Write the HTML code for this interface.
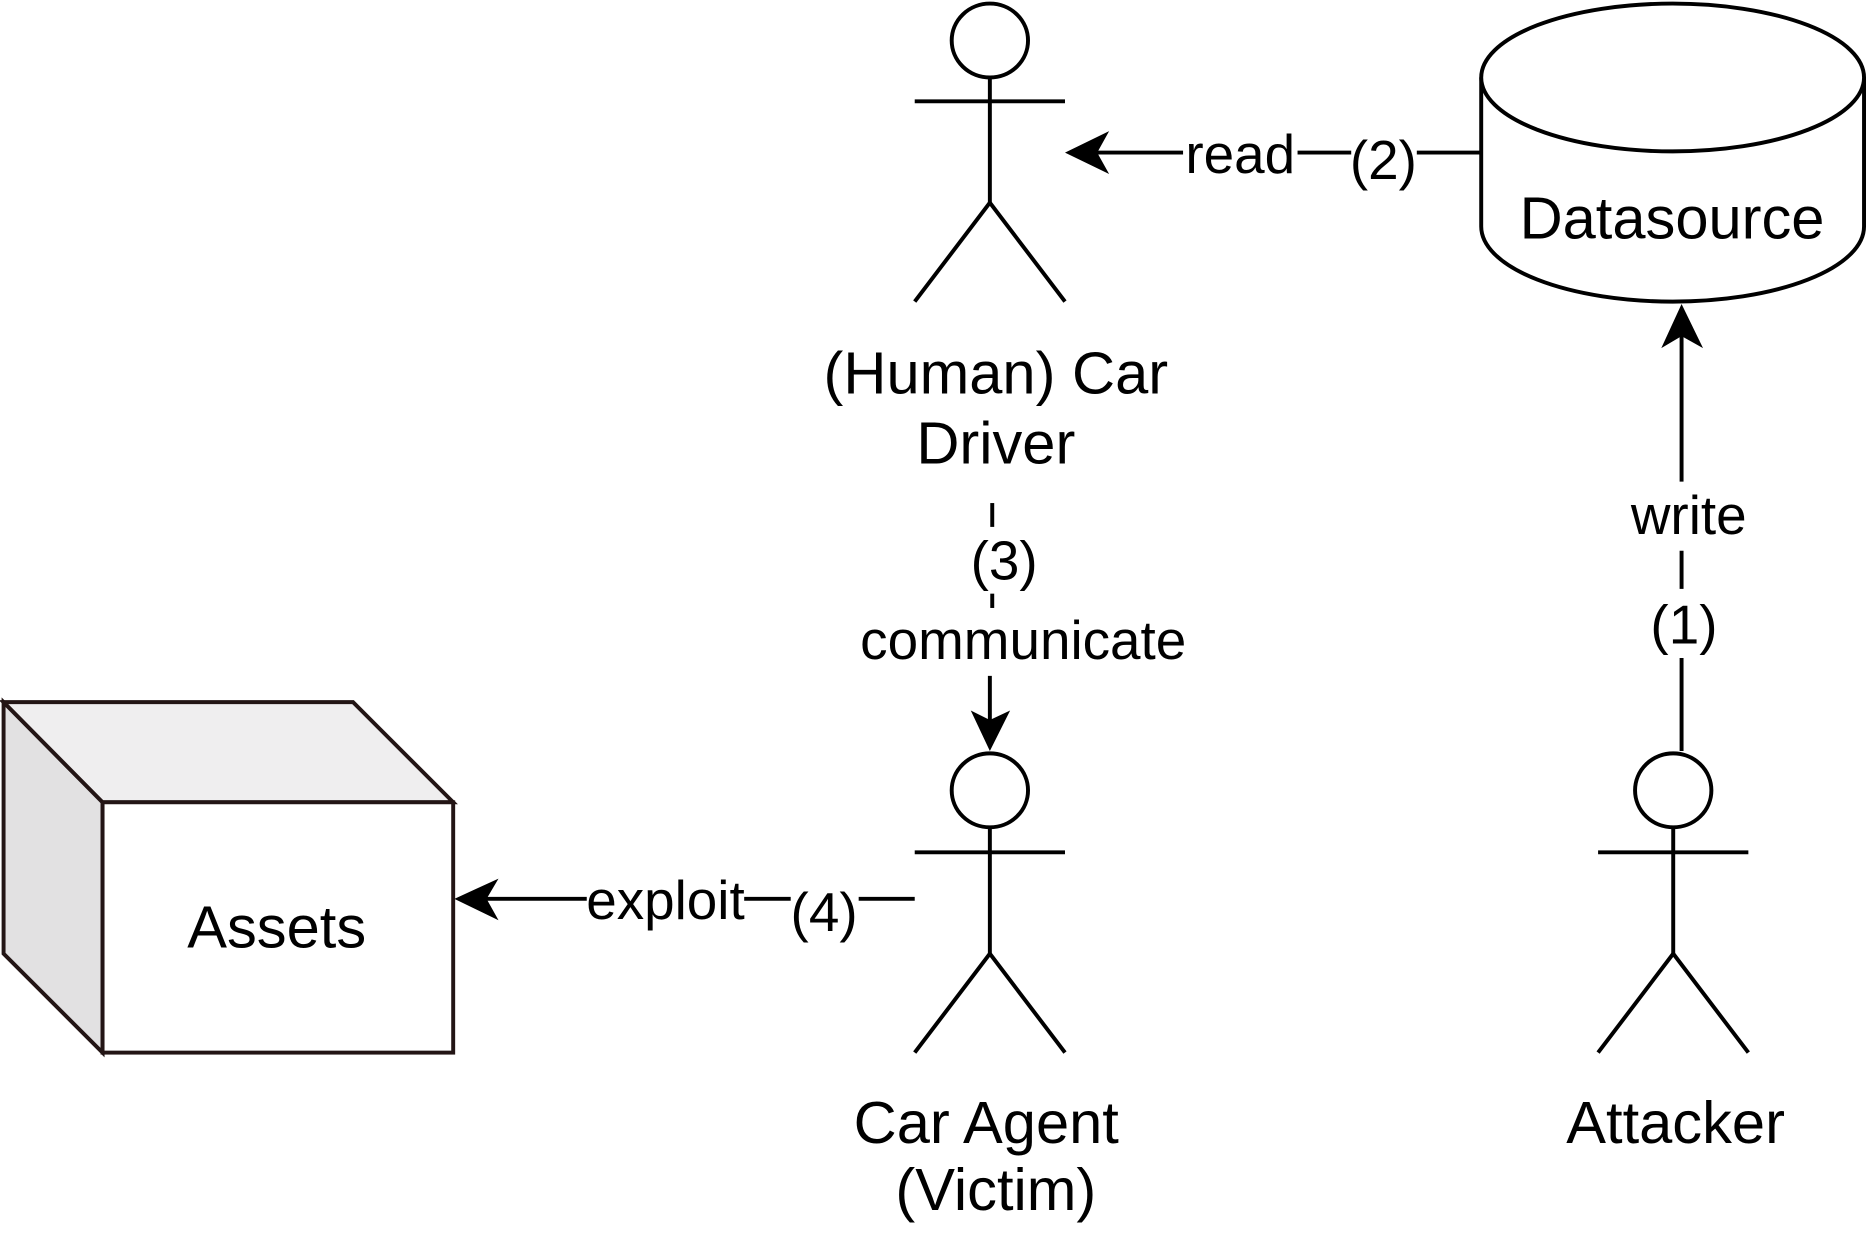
<!DOCTYPE html>
<html><head><meta charset="utf-8"><style>
html,body{margin:0;padding:0;background:#fff;}
svg{display:block;}
text{font-family:"Liberation Sans",Arial,sans-serif;fill:#000;}
</style></head><body>
<svg width="1870" height="1235" viewBox="0 0 1568 1036" preserveAspectRatio="none" xmlns="http://www.w3.org/2000/svg">
<g fill="none" stroke="#000" stroke-width="3.3">
 <ellipse cx="830" cy="34" rx="32" ry="31" fill="#fff"/>
 <line x1="767" y1="85" x2="893" y2="85"/>
 <line x1="830" y1="65" x2="830" y2="170"/>
 <polyline points="767,253 830,170 893,253"/>
 <ellipse cx="830" cy="663" rx="32" ry="31" fill="#fff"/>
 <line x1="767" y1="715" x2="893" y2="715"/>
 <line x1="830" y1="694" x2="830" y2="800"/>
 <polyline points="767,883 830,800 893,883"/>
 <ellipse cx="1403" cy="663" rx="32" ry="31" fill="#fff"/>
 <line x1="1340" y1="715" x2="1466" y2="715"/>
 <line x1="1403" y1="694" x2="1403" y2="800"/>
 <polyline points="1340,883 1403,800 1466,883"/>
 <path d="M1242,65 L1242,190 A160.5,63 0 0 0 1563,190 L1563,65" fill="#fff"/>
 <ellipse cx="1402.5" cy="65" rx="160.5" ry="62" fill="#fff"/>
 <line x1="1242" y1="128" x2="1188" y2="128"/>
 <line x1="1133" y1="128" x2="1088" y2="128"/>
 <line x1="992" y1="128" x2="915" y2="128"/>
 <line x1="1410" y1="630" x2="1410" y2="552"/>
 <line x1="1410" y1="494" x2="1410" y2="462"/>
 <line x1="1410" y1="404" x2="1410" y2="280"/>
 <line x1="832" y1="422" x2="832" y2="442"/>
 <line x1="832" y1="498" x2="832" y2="510"/>
 <line x1="830" y1="567" x2="830" y2="605"/>
 <line x1="767" y1="754" x2="720" y2="754"/>
 <line x1="663" y1="754" x2="624" y2="754"/>
 <line x1="492" y1="754" x2="405" y2="754"/>
</g>
<g fill="#000">
 <polygon points="893,128 930,110 920,128 930,146"/>
 <polygon points="1410,255 1393,292 1410,282 1428,292"/>
 <polygon points="830,630 814,596 830,604 847,596"/>
 <polygon points="381,754 418,737 408,754 418,772"/>
</g>
<g stroke="#231515" stroke-width="3.3" stroke-linejoin="miter">
 <polygon points="3,589 86,673 86,883 3,800" fill="#e2e1e2"/>
 <polygon points="3,589 296,589 380,673 86,673" fill="#efeeef"/>
 <rect x="86" y="673" width="294" height="210" fill="#fff"/>
</g>
<g text-anchor="middle" font-size="50">
 <text x="835" y="330">(Human) Car</text>
 <text x="835" y="389">Driver</text>
 <text x="1402" y="200">Datasource</text>
 <text x="827" y="959">Car Agent</text>
 <text x="835" y="1015">(Victim)</text>
 <text x="1405" y="959">Attacker</text>
 <text x="232" y="795">Assets</text>
</g>
<g text-anchor="middle" font-size="46">
 <text x="1040" y="145">read</text>
 <text x="1160" y="150">(2)</text>
 <text x="1416" y="448">write</text>
 <text x="1412" y="540">(1)</text>
 <text x="842" y="486">(3)</text>
 <text x="858" y="553">communicate</text>
 <text x="558" y="771">exploit</text>
 <text x="691" y="781">(4)</text>
</g>
</svg>
</body></html>
